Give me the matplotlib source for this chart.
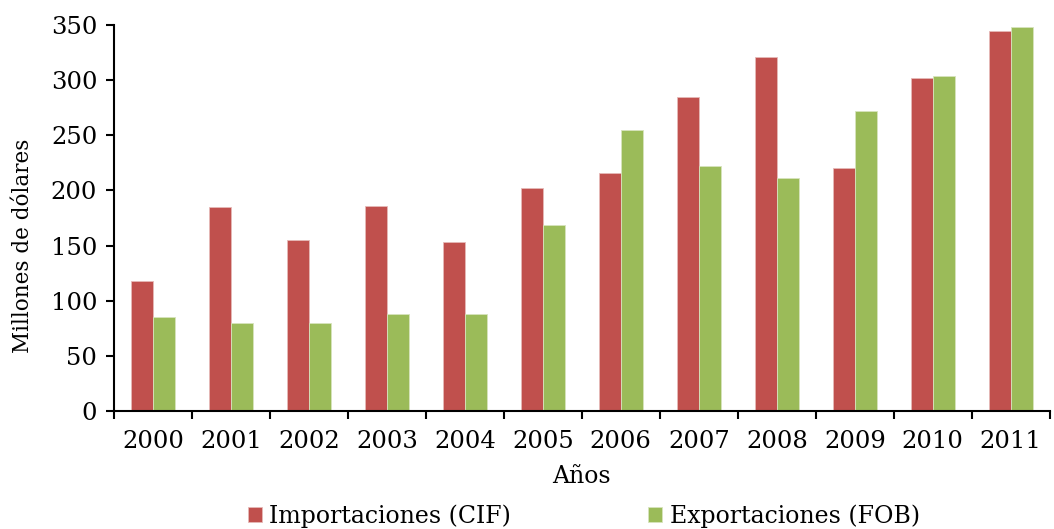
import matplotlib.pyplot as plt
import numpy as np

years = ["2000", "2001", "2002", "2003", "2004", "2005",
         "2006", "2007", "2008", "2009", "2010", "2011"]
importaciones = [118, 185, 155, 186, 153, 202, 216, 285, 321, 220, 302, 344]
exportaciones = [85, 80, 80, 88, 88, 169, 255, 222, 211, 272, 304, 348]

plt.rcParams['font.family'] = ['DejaVu Serif']

fig = plt.figure(figsize=(10.54, 5.29), dpi=100)
ax = fig.add_axes([0.108, 0.223, 0.888, 0.730])

x = np.arange(len(years))
w = 0.28
ax.bar(x - w / 2, importaciones, w, color="#C0504D", edgecolor="#E6B9B8",
       linewidth=0.6, label="Importaciones (CIF)")
ax.bar(x + w / 2, exportaciones, w, color="#9BBB59", edgecolor="#D7E4BD",
       linewidth=0.6, label="Exportaciones (FOB)")

ax.set_xlim(-0.5, len(years) - 0.5)
ax.set_ylim(0, 350)
ax.set_yticks(range(0, 351, 50))

ax.set_xticks(np.arange(len(years) + 1) - 0.5, [""] * (len(years) + 1))
ax.set_xticks(x, years, minor=True)
ax.tick_params(axis="x", which="major", length=6, width=1.5, direction="out")
ax.tick_params(axis="x", which="minor", length=0, pad=14, labelsize=17.5)
ax.tick_params(axis="y", length=6, width=1.5, direction="out", labelsize=17.5, pad=6)

for s in ["top", "right"]:
    ax.spines[s].set_visible(False)
for s in ["left", "bottom"]:
    ax.spines[s].set_linewidth(1.5)

ax.set_ylabel("Millones de dólares", fontsize=15.5)
ax.yaxis.set_label_coords(-0.085, 0.427)
ax.set_xlabel("Años", fontsize=17, labelpad=8)

fig.legend(loc="center", bbox_to_anchor=(0.554, 0.024), ncol=2, frameon=False,
           fontsize=17, handlelength=0.6, handleheight=0.6, handletextpad=0.3,
           columnspacing=5.8)

fig.savefig("out.png", dpi=100)
